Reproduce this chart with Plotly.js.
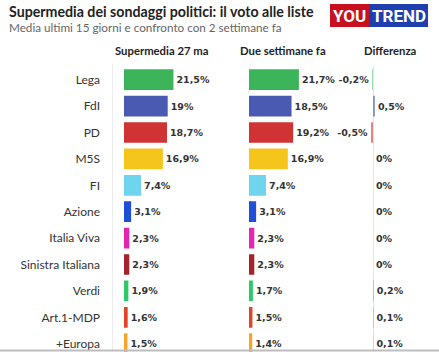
<!DOCTYPE html>
<html><head><meta charset="utf-8">
<script src="https://cdn.plot.ly/plotly-3.0.1.min.js"></script>
<style>html,body{margin:0;padding:0;background:#fff;}#chart{width:439px;height:352px;}</style>
</head><body><div id="chart"></div>
<script>
var parties = ["Lega","FdI","PD","M5S","FI","Azione","Italia Viva","Sinistra Italiana","Verdi","Art.1-MDP","+Europa"];
var supermedia = [21.5,19,18.7,16.9,7.4,3.1,2.3,2.3,1.9,1.6,1.5];
var dueSettimane = [21.7,18.5,19.2,16.9,7.4,3.1,2.3,2.3,1.7,1.5,1.4];
var differenza = [-0.2,0.5,-0.5,0,0,0,0,0,0.2,0.1,0.1];
var colors = ["#3cb55a","#4a5ab3","#d03333","#f6c51c","#6fd5ee","#1f4fd6","#e425b2","#a3232f","#30c96a","#e0452b","#f5a62a"];
var headers = ["Supermedia 27 ma","Due settimane fa","Differenza"];

var W = 439, H = 352;
function px(x){return x/W;}
function py(y){return 1 - y/H;}
function fmt(v){return String(v).replace('.', ',') + '%';}

var valFont = {family:"DejaVu Sans", size:9.5, color:"#333", weight:"bold"};
var barBase = {type:"bar", orientation:"h", y:parties, textposition:"outside", cliponaxis:false,
  constraintext:"none", hoverinfo:"skip", textfont:valFont};

var t1 = Object.assign({}, barBase, {x:supermedia, text:supermedia.map(fmt), xaxis:"x", yaxis:"y", marker:{color:colors}});
var t2 = Object.assign({}, barBase, {x:dueSettimane, text:dueSettimane.map(fmt), xaxis:"x2", yaxis:"y", marker:{color:colors}});
var t3 = Object.assign({}, barBase, {x:differenza, text:differenza.map(fmt), xaxis:"x3", yaxis:"y", marker:{color:colors, opacity:0.6}});

var scale = 2.3, dScale = 4;
var hidden = {showgrid:false, zeroline:false, showticklabels:false, ticks:"", showline:false, fixedrange:true, anchor:"y"};
var logoFont = {family:"Roboto", size:17, color:"#fff", weight:"bold"};
var headFont = {family:"Lato", size:11.3, color:"#222", weight:"bold"};
var layout = {
  width:W, height:H, margin:{l:0,r:0,t:0,b:0}, paper_bgcolor:"#fff", plot_bgcolor:"rgba(0,0,0,0)",
  showlegend:false, bargap:0.215,
  xaxis: Object.assign({}, hidden, {domain:[px(124), px(236)], range:[0, (236-124)/scale]}),
  xaxis2: Object.assign({}, hidden, {domain:[px(249), px(345)], range:[0, (345-249)/scale]}),
  xaxis3: Object.assign({}, hidden, {domain:[px(350), px(439)], range:[-(373-350)/dScale, (439-373)/dScale],
     zeroline:true, zerolinecolor:"#e4e4e4", zerolinewidth:1}),
  yaxis: {type:"category", categoryarray:parties, categoryorder:"array", domain:[0, py(66.5)],
     range:[-0.5 + (352-66.5)/26.4, -0.5], anchor:"free", position:px(100), showgrid:false, zeroline:false,
     showline:false, ticks:"", tickfont:{family:"Lato", size:12, color:"#333"}, fixedrange:true},
  shapes:[
    {type:"line", xref:"paper", yref:"paper", x0:px(112.5), x1:px(112.5), y0:py(64), y1:py(350), line:{color:"#ececec", width:1}},
    {type:"line", xref:"paper", yref:"paper", x0:0, x1:1, y0:py(350.5), y1:py(350.5), line:{color:"#bdbdbd", width:2}},
    {type:"rect", xref:"paper", yref:"paper", x0:px(330), x1:px(369), y0:py(27), y1:py(4), fillcolor:"#c8111e", line:{width:0}},
    {type:"rect", xref:"paper", yref:"paper", x0:px(369), x1:px(428), y0:py(27), y1:py(4), fillcolor:"#1f3fae", line:{width:0}}
  ],
  annotations:[
    {xref:"paper", yref:"paper", x:px(7), y:py(12), xanchor:"left", yanchor:"middle", showarrow:false,
     text:"Supermedia dei sondaggi politici: il voto alle liste", font:{family:"Lato", size:14.2, color:"#222", weight:"bold"}},
    {xref:"paper", yref:"paper", x:px(7), y:py(26.5), xanchor:"left", yanchor:"middle", showarrow:false,
     text:"Media ultimi 15 giorni e confronto con 2 settimane fa", font:{family:"Lato", size:11.7, color:"#666"}},
    {xref:"paper", yref:"paper", x:px(349.5), y:py(16), xanchor:"center", yanchor:"middle", showarrow:false,
     text:"YOU", font:logoFont},
    {xref:"paper", yref:"paper", x:px(398.5), y:py(16), xanchor:"center", yanchor:"middle", showarrow:false,
     text:"TREND", font:logoFont},
    {xref:"paper", yref:"paper", x:px(113), y:py(50.5), xanchor:"left", yanchor:"middle", showarrow:false,
     text:headers[0], font:headFont},
    {xref:"paper", yref:"paper", x:px(238), y:py(50.5), xanchor:"left", yanchor:"middle", showarrow:false,
     text:headers[1], font:headFont},
    {xref:"paper", yref:"paper", x:px(362), y:py(50.5), xanchor:"left", yanchor:"middle", showarrow:false,
     text:headers[2], font:headFont}
  ]
};
Plotly.newPlot("chart", [t1,t2,t3], layout, {displayModeBar:false, staticPlot:true});
</script></body></html>
